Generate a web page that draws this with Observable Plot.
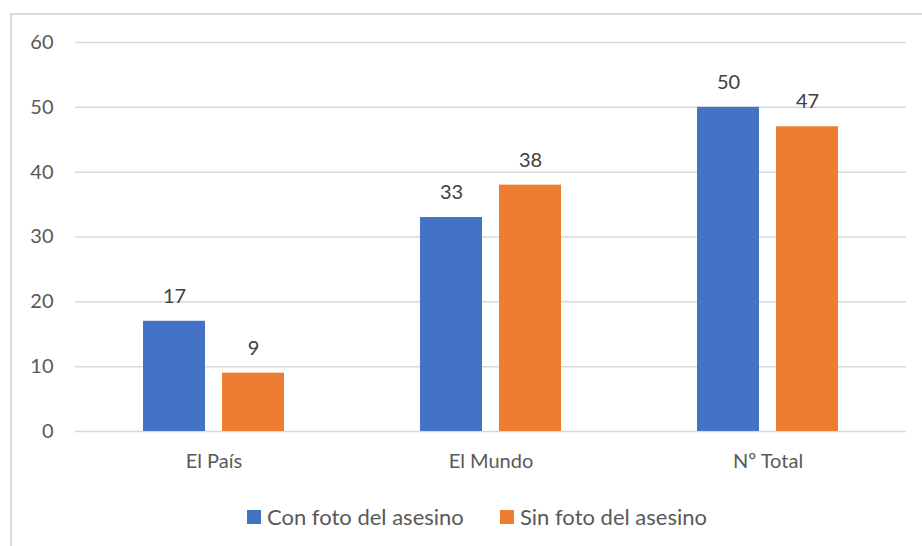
<!DOCTYPE html>
<html>
<head>
<meta charset="utf-8">
<script src="https://cdn.jsdelivr.net/npm/d3@7"></script>
<script src="https://cdn.jsdelivr.net/npm/@observablehq/plot@0.6"></script>
<style>
  html, body { margin: 0; padding: 0; background: #fff; }
  body { width: 922px; height: 546px; position: relative; overflow: hidden; font-family: Lato, "Open Sans", sans-serif; }
  #frame { position: absolute; left: 10px; top: 13px; width: 940px; height: 560px; border-left: 2px solid #d9d9d9; border-top: 2px solid #d9d9d9; box-sizing: border-box; }
  #chart { position: absolute; left: 0; top: 0; }
  #legend { position: absolute; left: 0; top: 495px; width: 922px; height: 51px; }
  .item { position: absolute; top: 8px; display: flex; align-items: center; font-size: 22px; color: #595959; white-space: nowrap; }
  .sw { width: 14px; height: 14px; margin-right: 6px; }
</style>
</head>
<body>
<div id="frame"></div>
<div id="chart"></div>
<div id="legend"></div>
<script>
const categories = ["El País", "El Mundo", "Nº Total"];
const seriesNames = ["Con foto del asesino", "Sin foto del asesino"];
const conFoto = [17, 33, 50];
const sinFoto = [9, 38, 47];
const yTicks = [0, 10, 20, 30, 40, 50, 60];
const colors = ["#4472C4", "#ED7D31"];

const data = [];
categories.forEach((c, i) => {
  data.push({ cat: c, serie: seriesNames[0], value: conFoto[i] });
  data.push({ cat: c, serie: seriesNames[1], value: sinFoto[i] });
});

const chart = Plot.plot({
  width: 922,
  height: 495,
  marginLeft: 74,
  marginRight: 15,
  marginTop: 42,
  marginBottom: 64,
  style: { fontFamily: "Lato, 'Open Sans', sans-serif", fontSize: "20px", color: "#595959", background: "transparent" },
  fx: { domain: categories, padding: 0, label: null },
  x: { domain: seriesNames, paddingInner: 0.215, paddingOuter: 0.86, axis: null },
  y: { domain: [0, 60], ticks: yTicks, label: null },
  color: { domain: seriesNames, range: colors },
  marks: [
    Plot.gridY(yTicks, { stroke: "#d9d9d9", strokeOpacity: 1, strokeWidth: 1.5 }),
    Plot.barY(data, { fx: "cat", x: "serie", y: "value", fill: "serie" }),
    Plot.text(data, { fx: "cat", x: "serie", y: "value", text: d => String(d.value), dy: -25, fill: "#404040", fontSize: 20 }),
    Plot.axisY(yTicks, { tickSize: 0, tickPadding: 22, label: null, fontSize: 20, fill: "#595959" }),
    Plot.axisFx({ anchor: "bottom", tickSize: 0, tickPadding: 22, label: null, fontSize: 20, fill: "#595959" })
  ]
});
document.getElementById("chart").appendChild(chart);

const legend = document.getElementById("legend");
const lefts = [247, 500];
seriesNames.forEach((s, i) => {
  const it = document.createElement("div");
  it.className = "item";
  it.style.left = lefts[i] + "px";
  const sw = document.createElement("span");
  sw.className = "sw";
  sw.style.background = colors[i];
  const tx = document.createElement("span");
  tx.textContent = s;
  it.appendChild(sw);
  it.appendChild(tx);
  legend.appendChild(it);
});
</script>
</body>
</html>
